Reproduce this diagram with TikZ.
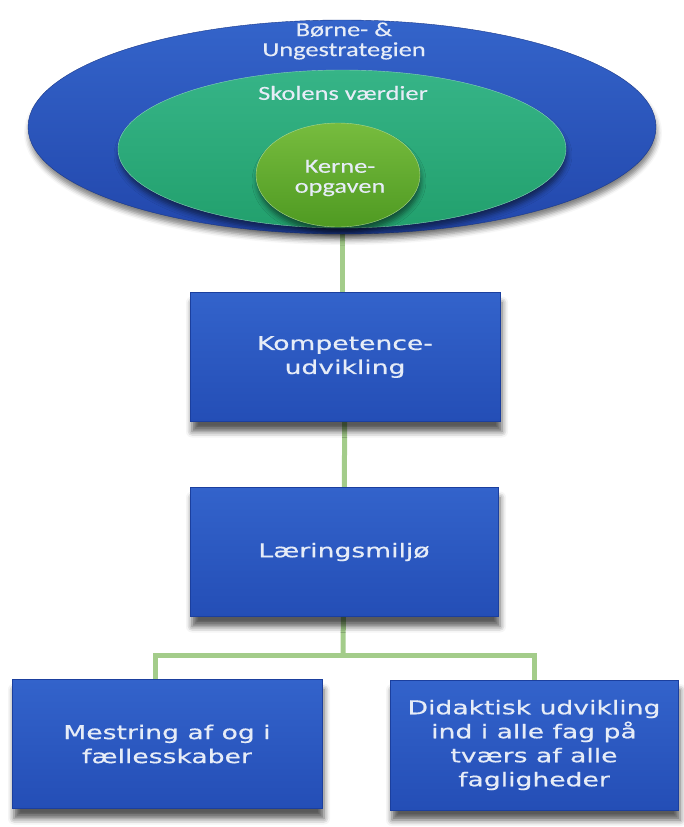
\documentclass[tikz,border=0pt]{standalone}
\usepackage{fontspec}
\newfontfamily\boxfont[FakeStretch=1.4,FakeBold=0.5]{DejaVu Sans}
\newfontfamily\ovalfont[FakeStretch=1.32,FakeBold=0.3]{Carlito}
\usetikzlibrary{shapes.geometric,shadows.blur,backgrounds}
\definecolor{boxtop}{HTML}{3363CB}
\definecolor{boxbot}{HTML}{244EB6}
\definecolor{boxedge}{HTML}{1B3F9E}
\definecolor{boxtext}{HTML}{E6ECF7}
\definecolor{ovaltop}{HTML}{3464CA}
\definecolor{ovalbot}{HTML}{2247AC}
\definecolor{valtop}{HTML}{36B487}
\definecolor{valbot}{HTML}{22A06D}
\definecolor{kernetop}{HTML}{77BC3E}
\definecolor{kernebot}{HTML}{4F9A22}
\definecolor{linkgreen}{HTML}{A3CC8A}
\begin{document}
\begin{tikzpicture}[x=1pt,y=-1pt,
oval/.style ={ellipse, inner sep=0pt,
  blur shadow={shadow xshift=1pt, shadow yshift=-6pt,
    shadow blur radius=5pt, shadow opacity=50}
},
ovaltext/.style ={text=boxtext, align=center, inner sep=0pt,
  font=\ovalfont\fontsize{20}{20}\selectfont
},
plan/.style ={rectangle, draw=boxedge, line width=1pt,
  top color=boxtop, bottom color=boxbot, text=boxtext,
  minimum width=310pt, minimum height=129pt, align=center,
  font=\boxfont\fontsize{19}{24}\selectfont,
  blur shadow={shadow xshift=2pt, shadow yshift=-10pt,
    shadow blur radius=6pt, shadow opacity=65}
},
link/.style ={draw=linkgreen, line width=5pt}]
\useasboundingbox (0,0) rectangle (684,827);
% ellipses at the top
\node (strategi) at (342,127) [oval, minimum width=628pt, minimum height=214pt,
  top color=ovaltop, bottom color=ovalbot, draw=ovalbot!80!black] {};
\node (vaerdier) at (342,149) [oval, minimum width=448pt, minimum height=158pt,
  top color=valtop, bottom color=valbot, draw=valtop!60!white] {};
\node (kerne) at (338,175) [oval, minimum width=164pt, minimum height=104pt,
  top color=kernetop, bottom color=kernebot, draw=kernetop!60!white] {};
\node (strategitxt) at (344,41) [ovaltext] {Børne- \&\\Ungestrategien};
\node (vaerditxt) at (343,93) [ovaltext] {Skolens værdier};
\node (kernetxt) at (340,178) [ovaltext] {Kerne-\\opgaven};
% boxes
\node (kompetence) at (345,357) [plan] {Kompetence-\\udvikling};
\node (laering) at (344,552) [plan, minimum width=308pt] {Læringsmiljø};
\node (mestring) at (167,744) [plan] {Mestring af og i\\fællesskaber};
\node (didaktik) at (534,745) [plan, minimum width=288pt, minimum height=130pt]
  {Didaktisk udvikling\\ind i alle fag på\\tværs af alle\\fagligheder};
\coordinate (fork) at (343,655);
\begin{scope}[on background layer]
\draw[link] (strategi.south) -- (strategi.south |- kompetence.north);
\draw[link] (kompetence) -- (laering);
\draw[link] (laering) -- (fork);
\draw[link] ([xshift=-12pt]mestring.north) |- (fork) -| (didaktik.north);
\end{scope}
\end{tikzpicture}
\end{document}
